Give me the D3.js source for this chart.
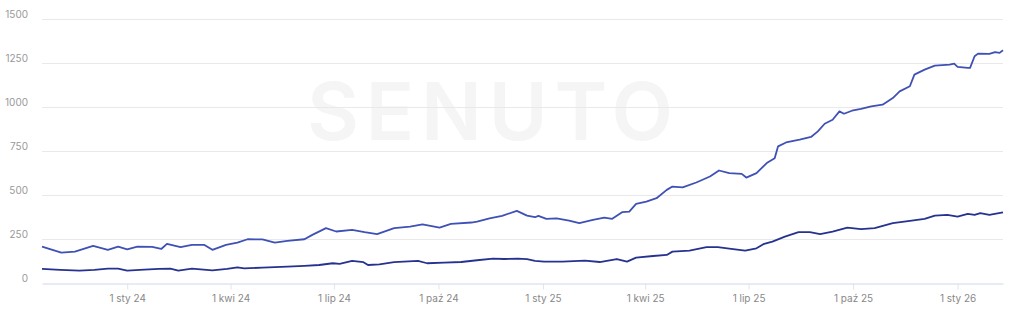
<!DOCTYPE html>
<html><head><meta charset="utf-8">
<script src="https://cdn.jsdelivr.net/npm/d3@7"></script>
<style>html,body{margin:0;padding:0;background:#fff;}svg{display:block;}</style>
</head><body><svg id="c" width="1024" height="310"></svg>
<script>
const upperDates = ["2023-10-18","2023-11-04","2023-11-16","2023-12-02","2023-12-15","2023-12-24","2024-01-01","2024-01-10","2024-01-23","2024-01-31","2024-02-05","2024-02-17","2024-02-27","2024-03-09","2024-03-16","2024-03-28","2024-04-07","2024-04-16","2024-04-29","2024-05-10","2024-05-21","2024-06-05","2024-06-12","2024-06-24","2024-07-03","2024-07-17","2024-07-28","2024-08-08","2024-08-23","2024-09-06","2024-09-17","2024-10-02","2024-10-12","2024-10-30","2024-11-04","2024-11-15","2024-11-26","2024-12-09","2024-12-18","2024-12-25","2024-12-28","2025-01-04","2025-01-13","2025-01-24","2025-02-02","2025-02-14","2025-02-24","2025-03-03","2025-03-12","2025-03-18","2025-03-24","2025-04-02","2025-04-11","2025-04-20","2025-04-25","2025-05-04","2025-05-16","2025-05-28","2025-06-05","2025-06-14","2025-06-25","2025-06-29","2025-07-08","2025-07-17","2025-07-24","2025-07-27","2025-08-03","2025-08-15","2025-08-25","2025-08-31","2025-09-06","2025-09-13","2025-09-19","2025-09-23","2025-09-30","2025-10-08","2025-10-17","2025-10-27","2025-11-05","2025-11-11","2025-11-20","2025-11-24","2025-12-03","2025-12-12","2025-12-25","2025-12-29","2026-01-01","2026-01-10","2026-01-12","2026-01-16","2026-01-19","2026-01-29","2026-02-03","2026-02-07","2026-02-10"];
const upperValues = [206,172,178,210,188,206,191,206,205,193,222,203,216,216,188,216,229,248,247,229,239,248,273,311,292,301,288,277,311,320,333,314,335,343,348,367,381,409,382,373,381,364,367,354,339,358,371,364,402,405,449,462,481,528,547,542,570,604,638,623,619,598,623,680,708,775,797,813,828,860,903,926,973,960,977,987,1002,1011,1049,1087,1116,1182,1210,1233,1239,1244,1226,1220,1220,1286,1301,1299,1309,1305,1320];

const lowerDates = ["2023-10-18","2023-11-03","2023-11-20","2023-12-03","2023-12-15","2023-12-24","2024-01-01","2024-01-16","2024-01-29","2024-02-08","2024-02-15","2024-02-27","2024-03-16","2024-03-29","2024-04-07","2024-04-13","2024-04-29","2024-05-21","2024-06-05","2024-06-18","2024-06-30","2024-07-06","2024-07-17","2024-07-27","2024-07-31","2024-08-10","2024-08-23","2024-09-13","2024-09-21","2024-10-06","2024-10-21","2024-11-04","2024-11-18","2024-11-28","2024-12-10","2024-12-18","2024-12-25","2025-01-02","2025-01-18","2025-02-07","2025-02-20","2025-03-07","2025-03-16","2025-03-24","2025-04-08","2025-04-20","2025-04-25","2025-05-10","2025-05-25","2025-06-04","2025-06-14","2025-06-28","2025-07-08","2025-07-14","2025-07-22","2025-08-02","2025-08-14","2025-08-24","2025-09-02","2025-09-13","2025-09-26","2025-10-08","2025-10-20","2025-11-05","2025-11-20","2025-12-03","2025-12-12","2025-12-23","2026-01-01","2026-01-10","2026-01-16","2026-01-21","2026-01-29","2026-02-10"];
const lowerValues = [80,74,70,74,81,81,70,76,80,81,70,81,72,80,89,83,87,93,97,102,112,108,125,118,102,106,118,125,112,115,119,129,138,136,138,135,125,121,121,127,119,136,121,144,153,159,178,184,203,203,195,184,197,220,235,263,288,288,277,292,314,305,311,339,352,364,382,386,377,392,386,396,386,400];

const yTicks = [0,250,500,750,1000,1250,1500];
const xTickDates = ["2024-01-01","2024-04-01","2024-07-01","2024-10-01","2025-01-01","2025-04-01","2025-07-01","2025-10-01","2026-01-01"];
const xTickLabels = ["1 sty 24","1 kwi 24","1 lip 24","1 paź 24","1 sty 25","1 kwi 25","1 lip 25","1 paź 25","1 sty 26"];
const domainDates = ["2023-10-18","2026-02-10"];

const svg = d3.select("#c");
const font = "Inter, 'Open Sans', sans-serif";
const x = d3.scaleUtc().domain(domainDates.map(d => new Date(d))).range([42, 1003]);
const y = d3.scaleLinear().domain([0,1500]).range([283, 18.5]);

// watermark
svg.append("text").attr("x", 307).attr("y", 140)
  .attr("textLength", 366).attr("lengthAdjust", "spacing")
  .attr("font-family", font).attr("font-weight", 600).attr("font-size", 80)
  .attr("fill", "#f5f5f5").text("SENUTO");

// gridlines
svg.append("g").selectAll("line").data(yTicks.filter(t => t > 0)).join("line")
  .attr("x1", 42).attr("x2", 1003)
  .attr("y1", d => Math.round(y(d)) + 0.5).attr("y2", d => Math.round(y(d)) + 0.5)
  .attr("stroke", "#e9e9e9").attr("stroke-width", 1);

// y labels
svg.append("g").selectAll("text").data(yTicks).join("text")
  .attr("x", 28).attr("y", d => Math.round(y(d)) - 1)
  .attr("text-anchor", "end").attr("font-family", font).attr("font-size", 10)
  .attr("fill", "#999").text(d => d);

// x axis
const xAxis = d3.axisBottom(x)
  .tickValues(xTickDates.map(d => new Date(d)))
  .tickFormat((d, i) => xTickLabels[i])
  .tickSize(6).tickSizeOuter(0).tickPadding(5);
const gx = svg.append("g").attr("transform", "translate(0,283.5)").call(xAxis);
gx.select(".domain").attr("stroke", "#dfe4f2").attr("stroke-width", 1.5);
gx.selectAll(".tick line").attr("stroke", "#dfe4f2");
gx.selectAll(".tick text").attr("font-family", font).attr("font-size", 10).attr("fill", "#888");

// lines
const line = d3.line().x(d => x(d[0])).y(d => y(d[1]));
const upper = upperDates.map((d, i) => [new Date(d), upperValues[i]]);
const lower = lowerDates.map((d, i) => [new Date(d), lowerValues[i]]);
svg.append("path").datum(upper).attr("d", line).attr("fill", "none")
  .attr("stroke", "#3f51b5").attr("stroke-width", 1.8).attr("stroke-linejoin", "round");
svg.append("path").datum(lower).attr("d", line).attr("fill", "none")
  .attr("stroke", "#26328f").attr("stroke-width", 1.8).attr("stroke-linejoin", "round");
</script></body></html>
